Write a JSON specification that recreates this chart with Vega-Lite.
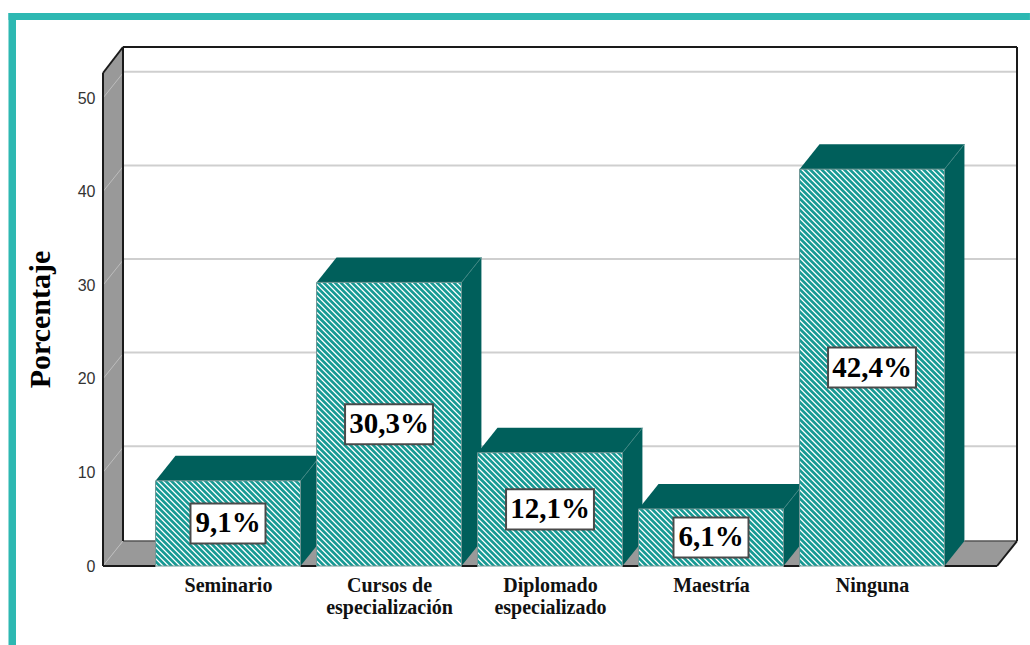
{"$schema":"https://vega.github.io/schema/vega-lite/v6.json","width":914,"height":519,"autosize":"none","padding":{"left":103,"top":47,"right":13,"bottom":79},"background":"white","config":{"view":{"stroke":null}},
"encoding":{"x":{"field":"x","type":"quantitative","scale":{"domain":[0.2236,5.9006],"nice":false,"zero":false},"axis":{"values":[1,2,3,4,5],"title":null,"domain":false,"ticks":false,"grid":false,"labelPadding":9,"labelFont":"Liberation Serif","labelFontWeight":"bold","labelFontSize":20,"labelColor":"#111","labelLineHeight":22,"labelOverlap":false,"labelBound":false,"labelFlush":false,"labelBaseline":"top","labelExpr":"datum.value==1?'Seminario':datum.value==2?['Cursos de','especialización']:datum.value==3?['Diplomado','especializado']:datum.value==4?'Maestría':'Ninguna'"}},
"y":{"field":"y","type":"quantitative","stack":null,"scale":{"domain":[0,55.449],"nice":false,"zero":false},"axis":{"values":[0,10,20,30,40,50],"title":"Porcentaje","titleFont":"Liberation Serif","titleFontWeight":"bold","titleFontSize":30,"titleColor":"#000","titleAngle":-90,"titleAlign":"center","titleBaseline":"middle","titleX":-63,"titleY":272,"domain":false,"ticks":false,"grid":false,"labelPadding":8,"labelFont":"Liberation Sans","labelFontSize":16,"labelColor":"#333"}}},
"datasets":{
"barras":[{"categoria":"Seminario","x":0.55,"x2":1.45,"y":9.1,"y2":0},{"categoria":"Cursos de especialización","x":1.55,"x2":2.45,"y":30.3,"y2":0},{"categoria":"Diplomado especializado","x":2.55,"x2":3.45,"y":12.1,"y2":0},{"categoria":"Maestría","x":3.55,"x2":4.45,"y":6.1,"y2":0},{"categoria":"Ninguna","x":4.55,"x2":5.45,"y":42.4,"y2":0}],
"etiquetas":[{"x":1,"y":4.55,"t":"9,1%","x0":0.767,"x1":1.233,"y0":2.41,"y1":6.69},{"x":2,"y":15.15,"t":"30,3%","x0":1.727,"x1":2.273,"y0":13.01,"y1":17.29},{"x":3,"y":6.05,"t":"12,1%","x0":2.727,"x1":3.273,"y0":3.91,"y1":8.19},{"x":4,"y":3.05,"t":"6,1%","x0":3.767,"x1":4.233,"y0":0.91,"y1":5.19},{"x":5,"y":21.2,"t":"42,4%","x0":4.727,"x1":5.273,"y0":19.06,"y1":23.34}]},
"layer":[
{"data":{"name":"barras"},"mark":{"type":"rect","fill":"white"},"encoding":{"x2":{"field":"x2"},"y2":{"field":"y2"}}},
{"data":{"values":[{"x":1.025,"y":-12.71},{"x":4.975,"y":55.23}]},"mark":{"type":"line","clip":true,"color":"#179a94","strokeWidth":900,"strokeCap":"butt","strokeDash":[2.7,1.3]}},
{"data":{"values":[{"x":0.2,"y":0,"y2":56},{"x":0.55,"y":0,"y2":56},{"x":0.55,"y":9.1,"y2":56},{"x":1.45,"y":9.1,"y2":56},{"x":1.45,"y":0,"y2":56},{"x":1.55,"y":0,"y2":56},{"x":1.55,"y":30.3,"y2":56},{"x":2.45,"y":30.3,"y2":56},{"x":2.45,"y":0,"y2":56},{"x":2.55,"y":0,"y2":56},{"x":2.55,"y":12.1,"y2":56},{"x":3.45,"y":12.1,"y2":56},{"x":3.45,"y":0,"y2":56},{"x":3.55,"y":0,"y2":56},{"x":3.55,"y":6.1,"y2":56},{"x":4.45,"y":6.1,"y2":56},{"x":4.45,"y":0,"y2":56},{"x":4.55,"y":0,"y2":56},{"x":4.55,"y":42.4,"y2":56},{"x":5.45,"y":42.4,"y2":56},{"x":5.45,"y":0,"y2":56},{"x":5.95,"y":0,"y2":56}]},"mark":{"type":"area","color":"white"},"encoding":{"y2":{"field":"y2"}}},
{"data":{"values":[{"x":0.3478,"x2":1.55,"y":12.8},{"x":2.45,"x2":4.55,"y":12.8},{"x":5.45,"x2":5.9006,"y":12.8},{"x":0.3478,"x2":1.55,"y":22.8},{"x":2.45,"x2":4.55,"y":22.8},{"x":5.45,"x2":5.9006,"y":22.8},{"x":0.3478,"x2":4.55,"y":32.8},{"x":5.45,"x2":5.9006,"y":32.8},{"x":0.3478,"x2":5.9006,"y":42.8},{"x":0.3478,"x2":5.9006,"y":52.8}]},"mark":{"type":"rule","color":"#cfcfcf","strokeWidth":2},"encoding":{"x2":{"field":"x2"}}},
{"data":{"values":[{"f":"pared","x":0.2236,"y":0,"y2":52.67},{"f":"pared","x":0.3478,"y":2.67,"y2":55.45},{"f":"izq","x":0.2236,"y":0,"y2":0},{"f":"izq","x":0.3478,"y":0,"y2":2.67},{"f":"izq","x":0.55,"y":0,"y2":2.67},{"f":"g1","x":1.45,"y":0,"y2":2.67},{"f":"g1","x":1.55,"y":0,"y2":2.67},{"f":"g2","x":2.45,"y":0,"y2":2.67},{"f":"g2","x":2.55,"y":0,"y2":2.67},{"f":"g3","x":3.45,"y":0,"y2":2.67},{"f":"g3","x":3.55,"y":0,"y2":2.67},{"f":"g4","x":4.45,"y":0,"y2":2.67},{"f":"g4","x":4.55,"y":0,"y2":2.67},{"f":"der","x":5.45,"y":0,"y2":2.67},{"f":"der","x":5.7764,"y":0,"y2":2.67},{"f":"der","x":5.9006,"y":2.67,"y2":2.67}]},"mark":{"type":"area","color":"#999999"},"encoding":{"y2":{"field":"y2"},"detail":{"field":"f"}}},
{"data":{"values":[{"x":0.2236,"x2":0.3478,"y":0,"y2":2.67},{"x":0.2236,"x2":0.3478,"y":10,"y2":12.67},{"x":0.2236,"x2":0.3478,"y":20,"y2":22.67},{"x":0.2236,"x2":0.3478,"y":30,"y2":32.67},{"x":0.2236,"x2":0.3478,"y":40,"y2":42.67},{"x":0.2236,"x2":0.3478,"y":50,"y2":52.67}]},"mark":{"type":"rule","color":"#bdbdbd","strokeWidth":1},"encoding":{"x2":{"field":"x2"},"y2":{"field":"y2"}}},
{"data":{"values":[{"f":"t1","x":0.55,"y":9.1,"y2":9.1},{"f":"t1","x":0.674,"y":9.1,"y2":11.77},{"f":"t1","x":1.45,"y":9.1,"y2":11.77},{"f":"t1","x":1.55,"y":11.25,"y2":11.77},{"f":"t2","x":1.55,"y":30.3,"y2":30.3},{"f":"t2","x":1.674,"y":30.3,"y2":32.97},{"f":"t2","x":2.45,"y":30.3,"y2":32.97},{"f":"t2","x":2.574,"y":32.97,"y2":32.97},{"f":"t3","x":2.55,"y":12.1,"y2":12.1},{"f":"t3","x":2.674,"y":12.1,"y2":14.77},{"f":"t3","x":3.45,"y":12.1,"y2":14.77},{"f":"t3","x":3.574,"y":14.77,"y2":14.77},{"f":"t4","x":3.55,"y":6.1,"y2":6.1},{"f":"t4","x":3.674,"y":6.1,"y2":8.77},{"f":"t4","x":4.45,"y":6.1,"y2":8.77},{"f":"t4","x":4.55,"y":8.25,"y2":8.77},{"f":"t5","x":4.55,"y":42.4,"y2":42.4},{"f":"t5","x":4.674,"y":42.4,"y2":45.07},{"f":"t5","x":5.45,"y":42.4,"y2":45.07},{"f":"t5","x":5.574,"y":45.07,"y2":45.07},{"f":"s1","x":1.45,"y":0,"y2":9.1},{"f":"s1","x":1.55,"y":2.15,"y2":11.25},{"f":"s2","x":2.45,"y":0,"y2":30.3},{"f":"s2","x":2.55,"y":2.15,"y2":32.45},{"f":"s2","x":2.55,"y":12.1,"y2":32.45},{"f":"s2","x":2.574,"y":12.1,"y2":32.97},{"f":"s3","x":3.45,"y":0,"y2":12.1},{"f":"s3","x":3.55,"y":2.15,"y2":14.25},{"f":"s3","x":3.55,"y":6.1,"y2":14.25},{"f":"s3","x":3.574,"y":6.1,"y2":14.77},{"f":"s4","x":4.45,"y":0,"y2":6.1},{"f":"s4","x":4.55,"y":2.15,"y2":8.25},{"f":"s5","x":5.45,"y":0,"y2":42.4},{"f":"s5","x":5.574,"y":2.67,"y2":45.07}]},"mark":{"type":"area","color":"#005f5b"},"encoding":{"y2":{"field":"y2"},"detail":{"field":"f"}}},
{"data":{"values":[{"x":1.45,"x2":1.55,"y":9.1,"y2":11.25},{"x":2.45,"x2":2.574,"y":30.3,"y2":32.97},{"x":3.45,"x2":3.574,"y":12.1,"y2":14.77},{"x":4.45,"x2":4.55,"y":6.1,"y2":8.25},{"x":5.45,"x2":5.574,"y":42.4,"y2":45.07}]},"mark":{"type":"rule","color":"#3f8582","strokeWidth":1},"encoding":{"x2":{"field":"x2"},"y2":{"field":"y2"}}},
{"data":{"values":[{"x":0.3478,"x2":0.55,"y":2.67,"y2":2.67},{"x":5.574,"x2":5.9006,"y":2.67,"y2":2.67}]},"mark":{"type":"rule","color":"#555","strokeWidth":1.5},"encoding":{"x2":{"field":"x2"},"y2":{"field":"y2"}}},
{"data":{"values":[{"x":0.3478,"x2":5.9006,"y":55.449,"y2":55.449},{"x":0.3478,"x2":0.3478,"y":2.67,"y2":55.449},{"x":5.9006,"x2":5.9006,"y":2.67,"y2":55.449},{"x":0.2236,"x2":0.2236,"y":0,"y2":52.67},{"x":0.2236,"x2":0.3478,"y":52.67,"y2":55.449},{"x":5.7764,"x2":5.9006,"y":0,"y2":2.67},{"x":0.2236,"x2":0.55,"y":0,"y2":0},{"x":1.45,"x2":1.55,"y":0,"y2":0},{"x":2.45,"x2":2.55,"y":0,"y2":0},{"x":3.45,"x2":3.55,"y":0,"y2":0},{"x":4.45,"x2":4.55,"y":0,"y2":0},{"x":5.45,"x2":5.7764,"y":0,"y2":0}]},"mark":{"type":"rule","color":"#1a1a1a","strokeWidth":2},"encoding":{"x2":{"field":"x2"},"y2":{"field":"y2"}}},
{"data":{"name":"barras"},"mark":{"type":"rect","fillOpacity":0,"stroke":"#6f9694","strokeWidth":1},"encoding":{"x2":{"field":"x2"},"y2":{"field":"y2"}}},
{"data":{"name":"etiquetas"},"mark":{"type":"rect","fill":"white","stroke":"#4a4a4a","strokeWidth":2},"encoding":{"x":{"field":"x0","type":"quantitative"},"x2":{"field":"x1"},"y":{"field":"y0","type":"quantitative"},"y2":{"field":"y1"}}},
{"data":{"name":"etiquetas"},"mark":{"type":"text","font":"Liberation Serif","fontWeight":"bold","fontSize":29,"color":"#000","align":"center","baseline":"middle"},"encoding":{"text":{"field":"t"}}},
{"data":{"values":[{"x":-0.3634,"x2":-0.3168,"y":-8.44,"y2":59.08},{"x":-0.3634,"x2":5.981,"y":58.33,"y2":59.08}]},"mark":{"type":"rect","color":"#2db8b2"},"encoding":{"x2":{"field":"x2"},"y2":{"field":"y2"}}}
]}
